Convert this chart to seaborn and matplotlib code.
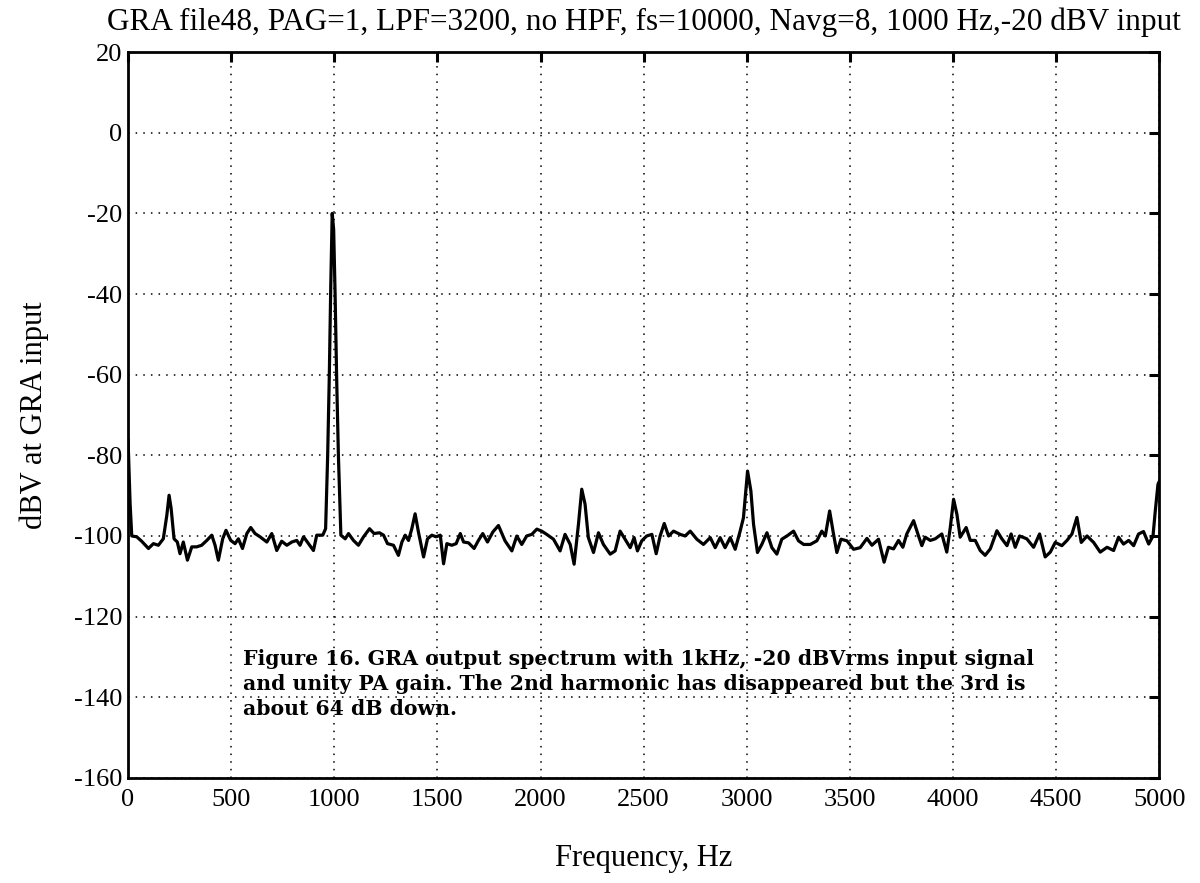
import matplotlib
matplotlib.use("Agg")
import matplotlib.pyplot as plt
import seaborn as sns
import pandas as pd

# Частоты (Гц) и уровни (dBV)
freq_hz = [
    0, 10, 18, 42, 66, 99, 123, 147, 171, 188, 199, 209, 223, 239, 252, 268,
    288, 309, 333, 357, 382, 406, 422, 438, 459, 475, 498, 519, 535, 555, 576,
    595, 616, 640, 673, 697, 721, 745, 770, 794, 818, 834, 851, 875, 899, 915,
    944, 958, 968, 976, 983, 990, 997, 1004, 1012, 1020, 1032, 1053, 1069,
    1093, 1117, 1142, 1171, 1193, 1219, 1239, 1258, 1287, 1311, 1328, 1344,
    1360, 1376, 1392, 1408, 1433, 1452, 1473, 1494, 1514, 1530, 1546, 1570,
    1591, 1611, 1627, 1651, 1678, 1699, 1720, 1743, 1769, 1796, 1828, 1861,
    1885, 1909, 1933, 1958, 1982, 2006, 2030, 2063, 2095, 2119, 2144, 2163,
    2184, 2200, 2216, 2232, 2257, 2281, 2305, 2338, 2362, 2386, 2410, 2435,
    2454, 2470, 2491, 2515, 2540, 2561, 2580, 2600, 2621, 2645, 2677, 2701,
    2726, 2758, 2790, 2823, 2847, 2871, 2895, 2920, 2944, 2968, 2984, 3004,
    3020, 3033, 3052, 3073, 3098, 3122, 3146, 3170, 3195, 3227, 3251, 3276,
    3308, 3340, 3364, 3381, 3402, 3421, 3437, 3457, 3486, 3518, 3550, 3583,
    3607, 3639, 3666, 3687, 3712, 3736, 3757, 3776, 3809, 3833, 3849, 3865,
    3890, 3914, 3946, 3970, 3987, 4003, 4019, 4035, 4064, 4084, 4108, 4132,
    4156, 4181, 4213, 4237, 4262, 4282, 4302, 4323, 4358, 4391, 4420, 4447,
    4472, 4496, 4528, 4553, 4577, 4601, 4622, 4650, 4682, 4714, 4747, 4779,
    4803, 4827, 4852, 4876, 4900, 4924, 4949, 4970, 4981, 4994, 5000,
]
level_dbv = [
    -76, -92, -100, -100.2, -101.3, -103.1, -101.9, -102.3, -100.7, -94.9,
    -89.9, -93.2, -100.7, -101.5, -104.4, -101.5, -106, -102.7, -102.7,
    -102.3, -101.1, -99.8, -102.3, -106, -100.7, -98.6, -101.1, -101.9,
    -100.7, -103.1, -99.4, -97.9, -99.4, -100.2, -101.5, -99.4, -103.6,
    -101.3, -102.3, -101.5, -101.1, -102.3, -100.2, -101.9, -103.6, -99.8,
    -99.8, -98.2, -80, -60, -38, -20, -24, -40, -62, -80, -99.8, -100.7,
    -99.4, -101.1, -102.3, -100.2, -98.2, -99.4, -99.2, -99.8, -101.9,
    -102.3, -104.8, -101.5, -99.8, -101.1, -98.2, -94.5, -99, -105.2,
    -100.7, -99.8, -100.2, -99.8, -106.9, -101.9, -102.3, -101.9, -99.4,
    -101.5, -101.7, -103.1, -101.1, -99.4, -101.5, -99, -97.4, -101.2,
    -103.7, -100, -102.1, -100, -99.6, -98.3, -98.8, -99.6, -100.8, -103.7,
    -99.6, -102.1, -107, -97.1, -88.4, -92.1, -100.4, -104.1, -99.2, -102.1,
    -104.5, -103.7, -98.8, -100.8, -102.9, -100.4, -103.7, -101.2, -100,
    -99.6, -104.4, -100, -96.9, -100, -98.8, -99.6, -100, -98.8, -100.8,
    -102.1, -100.4, -102.9, -100.4, -102.9, -100.4, -103.3, -98.8, -95.5,
    -83.9, -88.8, -97.1, -104.1, -102.1, -99.2, -102.9, -104.5, -100.8,
    -100, -98.8, -101.2, -102.1, -102.1, -101.2, -98.8, -100, -93.8, -99.6,
    -104.1, -100.8, -101.2, -103.3, -102.9, -100.6, -102.3, -100.8, -106.5,
    -102.8, -103.2, -101.1, -102.8, -99.5, -96.2, -100, -102.4, -100.3,
    -101.1, -100.7, -99.5, -104, -97.9, -90.9, -94.6, -100.3, -97.9, -101.1,
    -101.1, -103.6, -104.8, -103.2, -98.7, -100.7, -102.4, -99.5, -102.8,
    -100, -100.7, -102.8, -99.5, -105.2, -104, -101.6, -102.4, -101.1, -99.5,
    -95.4, -101.6, -100, -101.6, -104, -102.8, -103.6, -100.3, -102, -101.1,
    -102.4, -99.5, -98.9, -102, -100, -93.8, -87.2, -86.5,
]

x_ticks = [0, 500, 1000, 1500, 2000, 2500, 3000, 3500, 4000, 4500, 5000]
y_ticks = [20, 0, -20, -40, -60, -80, -100, -120, -140, -160]

title_text = "GRA file48, PAG=1, LPF=3200, no HPF, fs=10000, Navg=8, 1000 Hz,-20 dBV input"
caption_lines = (
    "Figure 16. GRA output spectrum with 1kHz, -20 dBVrms input signal\n"
    "and unity PA gain. The 2nd harmonic has disappeared but the 3rd is\n"
    "about 64 dB down."
)

sns.set_theme(style="white")
plt.rcParams["font.family"] = ["Liberation Serif", "DejaVu Serif"]
plt.rcParams["axes.unicode_minus"] = False
plt.rcParams["text.color"] = "black"
plt.rcParams["axes.labelcolor"] = "black"

df = pd.DataFrame({"freq": freq_hz, "level": level_dbv})

fig = plt.figure(figsize=(12, 8.83), dpi=100)
ax = fig.add_axes([0.1067, 0.119, 0.8593, 0.822])

sns.lineplot(data=df, x="freq", y="level", color="black", linewidth=2.3, ax=ax)

ax.set_xlim(0, 5000)
ax.set_ylim(-160, 20)
ax.set_xticks(x_ticks)
ax.set_yticks(y_ticks)
ax.grid(True, color="black", linestyle=(0, (1, 4)), linewidth=1.1)

for s in ax.spines.values():
    s.set_color("black")
    s.set_linewidth(2)
ax.tick_params(direction="in", length=7, width=2.2, top=True, right=True,
               labelsize=19, colors="black", pad=4)
ax.tick_params(axis="x", pad=8)

ax.set_title(title_text, fontsize=22.5, pad=16, color="black")
ax.set_xlabel("Frequency, Hz", fontsize=22, labelpad=24)
ax.set_ylabel("dBV at GRA input", fontsize=22, labelpad=18)

ax.text(558, -136.7, caption_lines, fontsize=14.7, fontweight="bold",
        family="DejaVu Serif", va="center", ha="left", linespacing=1.3,
        color="black")

plt.savefig("out.png", dpi=100)
plt.close()
